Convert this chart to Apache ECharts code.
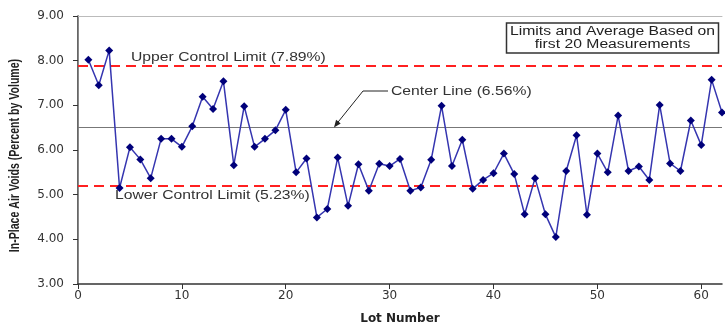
<!DOCTYPE html>
<html>
<head>
<meta charset="utf-8">
<script src="https://cdn.jsdelivr.net/npm/echarts@6/dist/echarts.min.js"></script>
<style>html,body{margin:0;padding:0;background:#fff;}#c{width:725px;height:330px;}</style>
</head>
<body>
<div id="c"></div>
<script>
const lots = [1,2,3,4,5,6,7,8,9,10,11,12,13,14,15,16,17,18,19,20,21,22,23,24,25,26,27,28,29,30,31,32,33,34,35,36,37,38,39,40,41,42,43,44,45,46,47,48,49,50,51,52,53,54,55,56,57,58,59,60,61,62];
const voids = [8.02,7.45,8.23,5.15,6.06,5.79,5.37,6.25,6.25,6.07,6.53,7.19,6.92,7.54,5.66,6.98,6.07,6.25,6.44,6.90,5.50,5.81,4.49,4.68,5.83,4.75,5.68,5.09,5.69,5.64,5.80,5.09,5.16,5.78,6.99,5.64,6.23,5.13,5.33,5.48,5.92,5.46,4.56,5.37,4.56,4.05,5.53,6.33,4.55,5.92,5.50,6.77,5.53,5.63,5.33,7.01,5.70,5.53,6.66,6.11,7.57,6.84];
const limits = { ucl: 7.89, center: 6.51, lcl: 5.19 };
const xTicks = [0,10,20,30,40,50,60];

const font = "'Liberation Sans', Arial, sans-serif";
const tickFont = "'DejaVu Sans', sans-serif";
const SX = 1.31;
const chart = echarts.init(document.getElementById('c'), null, {renderer:'canvas'});
chart.setOption({
  animation: false,
  backgroundColor: '#fff',
  grid: { left: 78, right: 3, top: 16, bottom: 43 },
  xAxis: [{
    type: 'value', min: 0, max: 62, interval: 10,
    name: 'Lot Number', nameLocation: 'middle', nameGap: 29,
    nameTextStyle: { fontFamily: tickFont, fontWeight: 'bold', fontSize: 12, color: '#222' },
    axisLine: { show: true, lineStyle: { color: '#333', width: 1.5 } },
    axisTick: { show: true, length: 5, customValues: xTicks, lineStyle: { color: '#333' } },
    axisLabel: { customValues: xTicks, fontFamily: tickFont, fontSize: 12, color: '#333', margin: 6 },
    splitLine: { show: false }
  }, {
    type: 'value', min: 0, max: 62, position: 'top',
    axisLine: { show: true, onZero: false, lineStyle: { color: '#bbb', width: 1 } },
    axisTick: { show: false }, axisLabel: { show: false }, splitLine: { show: false }
  }],
  yAxis: [{
    type: 'value', min: 3, max: 9, interval: 1,
    axisLine: { show: true, lineStyle: { color: '#333', width: 1.5 } },
    axisTick: { show: true, length: 5, lineStyle: { color: '#333' } },
    axisLabel: { formatter: v => v.toFixed(2), fontFamily: tickFont, fontSize: 12, color: '#333', margin: 14 },
    splitLine: { show: false }
  }, {
    type: 'value', min: 3, max: 9, position: 'right',
    axisLine: { show: true, lineStyle: { color: '#888', width: 1 } },
    axisTick: { show: false }, axisLabel: { show: false }, splitLine: { show: false }
  }],
  series: [{
    type: 'line',
    data: lots.map((l, i) => [l, voids[i]]),
    symbol: 'diamond', symbolSize: 8,
    lineStyle: { color: '#3535b0', width: 1.5 },
    itemStyle: { color: '#00007a' },
    z: 5,
    markLine: {
      silent: true, symbol: 'none', label: { show: false },
      data: [
        { yAxis: limits.ucl, lineStyle: { color: '#ff2020', width: 2, type: [10, 6] } },
        { yAxis: limits.lcl, lineStyle: { color: '#ff2020', width: 2, type: [10, 6] } },
        { yAxis: limits.center, lineStyle: { color: '#777', width: 1.2, type: 'solid' } }
      ]
    }
  }],
  graphic: [
    { type: 'text', x: 15, y: 155.5, rotation: Math.PI / 2, scaleX: 0.96, scaleY: 1.3,
      style: { text: 'In-Place Air Voids (Percent by Volume)', font: 'bold 11px ' + font, fill: '#222', align: 'center', verticalAlign: 'middle' }, z: 10 },
    { type: 'text', x: 131, y: 58, scaleX: SX, style: { text: 'Upper Control Limit (7.89%)', font: '12px ' + font, fill: '#333', verticalAlign: 'middle' }, z: 10 },
    { type: 'text', x: 115, y: 196, scaleX: SX, style: { text: 'Lower Control Limit (5.23%)', font: '12px ' + font, fill: '#333', verticalAlign: 'middle' }, z: 10 },
    { type: 'text', x: 391, y: 92, scaleX: SX, style: { text: 'Center Line (6.56%)', font: '12px ' + font, fill: '#333', verticalAlign: 'middle' }, z: 10 },
    { type: 'polyline', shape: { points: [[388, 91], [363, 91], [336.5, 124]] }, style: { stroke: '#222', lineWidth: 1, fill: null }, z: 10 },
    { type: 'polygon', shape: { points: [[334, 127.5], [340.7, 123.4], [336.1, 119.7]] }, style: { fill: '#222' }, z: 10 },
    { type: 'rect', shape: { x: 506.5, y: 23, width: 212, height: 30 }, style: { stroke: '#333', lineWidth: 1.5, fill: '#fff' }, z: 10 },
    { type: 'text', x: 612.5, y: 31.5, scaleX: SX, style: { text: 'Limits and Average Based on', font: '12px ' + font, fill: '#222', align: 'center', verticalAlign: 'middle' }, z: 11 },
    { type: 'text', x: 612.5, y: 44.5, scaleX: SX, style: { text: 'first 20 Measurements', font: '12px ' + font, fill: '#222', align: 'center', verticalAlign: 'middle' }, z: 11 }
  ]
});
</script>
</body>
</html>
